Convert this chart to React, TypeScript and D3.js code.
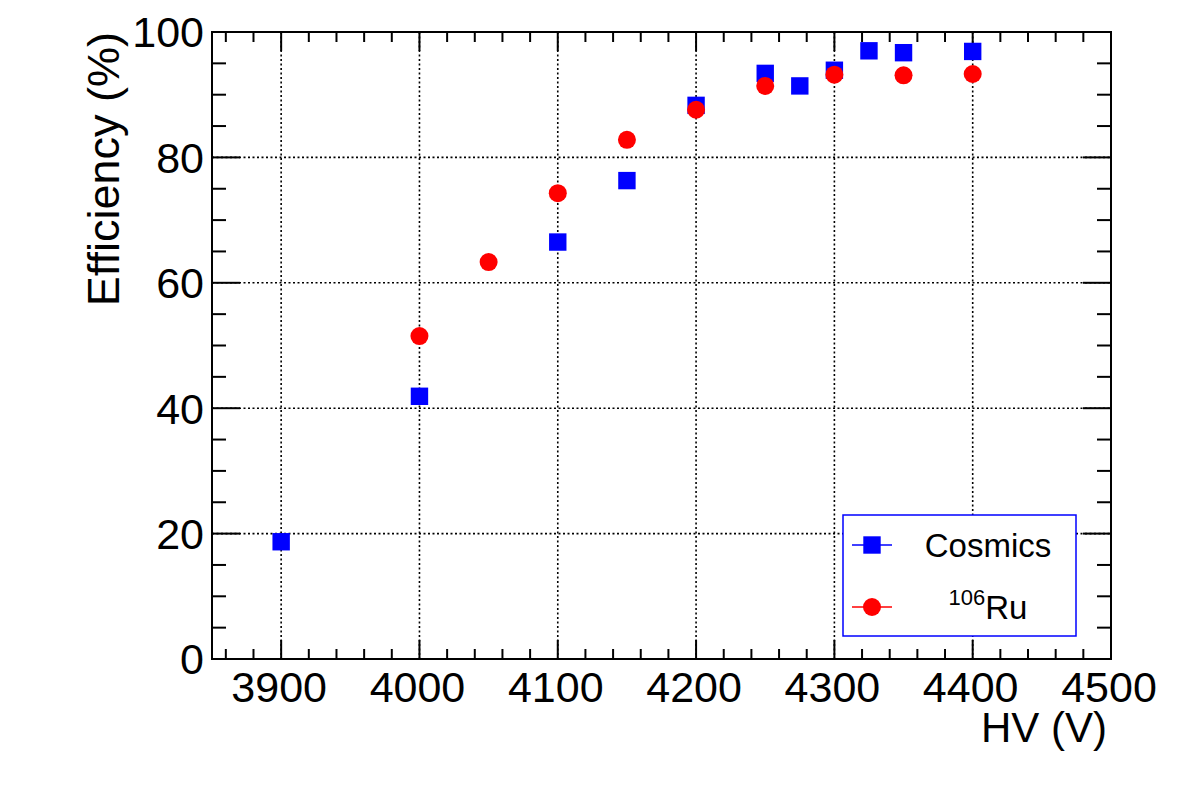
import React, { useEffect, useRef } from "react";
import { select, scaleLinear, range } from "d3";

// measured data
const cosmicsHV = [3900, 4000, 4100, 4150, 4200, 4250, 4275, 4300, 4325, 4350, 4400];
const cosmicsEff = [18.7, 41.9, 66.5, 76.3, 88.3, 93.4, 91.4, 93.9, 97.0, 96.7, 96.9];

const rutheniumHV = [4000, 4050, 4100, 4150, 4200, 4250, 4300, 4350, 4400];
const rutheniumEff = [51.5, 63.3, 74.3, 82.8, 87.6, 91.4, 93.2, 93.1, 93.3];

const xTicks = [3900, 4000, 4100, 4200, 4300, 4400, 4500];
const yTicks = [0, 20, 40, 60, 80, 100];

const W = 1182;
const H = 805;
const FONT = "'Liberation Sans', Arial, Helvetica, sans-serif";

export default function App() {
  const svgRef = useRef<SVGSVGElement>(null);

  useEffect(() => {
    const svg = select(svgRef.current);
    svg.selectAll("*").remove();

    const left = 212, right = 1111, top = 32, bottom = 659;
    const x = scaleLinear().domain([3850, 4500]).range([left, right]);
    const y = scaleLinear().domain([0, 100]).range([bottom, top]);

    svg.append("rect").attr("width", W).attr("height", H).attr("fill", "white");

    // grid
    const grid = svg.append("g")
      .attr("stroke", "black")
      .attr("stroke-width", 1.6)
      .attr("stroke-dasharray", "2,2.5");
    grid.selectAll("line.gx")
      .data(xTicks.filter(t => t < 4500))
      .join("line")
      .attr("x1", d => x(d)).attr("x2", d => x(d))
      .attr("y1", top).attr("y2", bottom);
    grid.selectAll("line.gy")
      .data(yTicks.filter(t => t > 0 && t < 100))
      .join("line")
      .attr("x1", left).attr("x2", right)
      .attr("y1", d => y(d)).attr("y2", d => y(d));

    // ticks on all four sides
    const minorX = range(3860, 4501, 20);
    const minorY = range(0, 100.1, 5);
    const ticks = svg.append("g").attr("stroke", "black").attr("stroke-width", 2);
    minorX.forEach(v => {
      const len = v % 100 === 0 ? 19 : 10;
      ticks.append("line").attr("x1", x(v)).attr("x2", x(v)).attr("y1", bottom).attr("y2", bottom - len);
      ticks.append("line").attr("x1", x(v)).attr("x2", x(v)).attr("y1", top).attr("y2", top + len);
    });
    minorY.forEach(v => {
      const len = v % 20 === 0 ? 28 : 14;
      ticks.append("line").attr("x1", left).attr("x2", left + len).attr("y1", y(v)).attr("y2", y(v));
      ticks.append("line").attr("x1", right).attr("x2", right - len).attr("y1", y(v)).attr("y2", y(v));
    });

    // frame
    svg.append("rect")
      .attr("x", left).attr("y", top)
      .attr("width", right - left).attr("height", bottom - top)
      .attr("fill", "none").attr("stroke", "black").attr("stroke-width", 2);

    // tick labels
    svg.append("g").selectAll("text")
      .data(xTicks)
      .join("text")
      .attr("x", d => x(d) - 2)
      .attr("y", 702)
      .attr("text-anchor", "middle")
      .attr("font-family", FONT)
      .attr("font-size", 43)
      .text(d => d);

    svg.append("g").selectAll("text")
      .data(yTicks)
      .join("text")
      .attr("x", 204)
      .attr("y", d => y(d))
      .attr("dy", "0.36em")
      .attr("text-anchor", "end")
      .attr("font-family", FONT)
      .attr("font-size", 43)
      .text(d => d);

    // axis titles
    svg.append("text")
      .attr("x", 1107).attr("y", 742)
      .attr("text-anchor", "end")
      .attr("font-family", FONT)
      .attr("font-size", 42)
      .text("HV (V)");

    svg.append("text")
      .attr("transform", "translate(119,32) rotate(-90)")
      .attr("text-anchor", "end")
      .attr("font-family", FONT)
      .attr("font-size", 45)
      .text("Efficiency (%)");

    // markers
    const half = 8.7;
    svg.append("g").selectAll("rect")
      .data(cosmicsHV.map((v, i) => [v, cosmicsEff[i]]))
      .join("rect")
      .attr("x", d => x(d[0]) - half)
      .attr("y", d => y(d[1]) - half)
      .attr("width", half * 2).attr("height", half * 2)
      .attr("fill", "#0000ff");

    svg.append("g").selectAll("circle")
      .data(rutheniumHV.map((v, i) => [v, rutheniumEff[i]]))
      .join("circle")
      .attr("cx", d => x(d[0]))
      .attr("cy", d => y(d[1]))
      .attr("r", 9)
      .attr("fill", "#ff0000");

    // legend
    const lg = svg.append("g");
    lg.append("rect")
      .attr("x", 843).attr("y", 515)
      .attr("width", 233).attr("height", 121)
      .attr("fill", "white").attr("stroke", "#0000ff").attr("stroke-width", 1.5);

    const e1 = 545, e2 = 607;
    lg.append("line").attr("x1", 852).attr("x2", 892).attr("y1", e1).attr("y2", e1).attr("stroke", "#0000ff").attr("stroke-width", 1.5);
    lg.append("rect").attr("x", 872 - half).attr("y", e1 - half).attr("width", half * 2).attr("height", half * 2).attr("fill", "#0000ff");
    lg.append("line").attr("x1", 852).attr("x2", 892).attr("y1", e2).attr("y2", e2).attr("stroke", "#ff0000").attr("stroke-width", 1.5);
    lg.append("circle").attr("cx", 872).attr("cy", e2).attr("r", 9).attr("fill", "#ff0000");

    lg.append("text")
      .attr("x", 988).attr("y", e1 + 12)
      .attr("text-anchor", "middle")
      .attr("font-family", FONT)
      .attr("font-size", 33)
      .text("Cosmics");

    const ru = lg.append("text")
      .attr("x", 988).attr("y", e2 + 12)
      .attr("text-anchor", "middle")
      .attr("font-family", FONT)
      .attr("font-size", 33);
    ru.append("tspan").attr("font-size", 22).attr("dy", -14).text("106");
    ru.append("tspan").attr("dy", 14).text("Ru");
  }, []);

  return (
    <svg
      ref={svgRef}
      width={W}
      height={H}
      style={{ position: "absolute", left: 0, top: 0, display: "block" }}
    />
  );
}
